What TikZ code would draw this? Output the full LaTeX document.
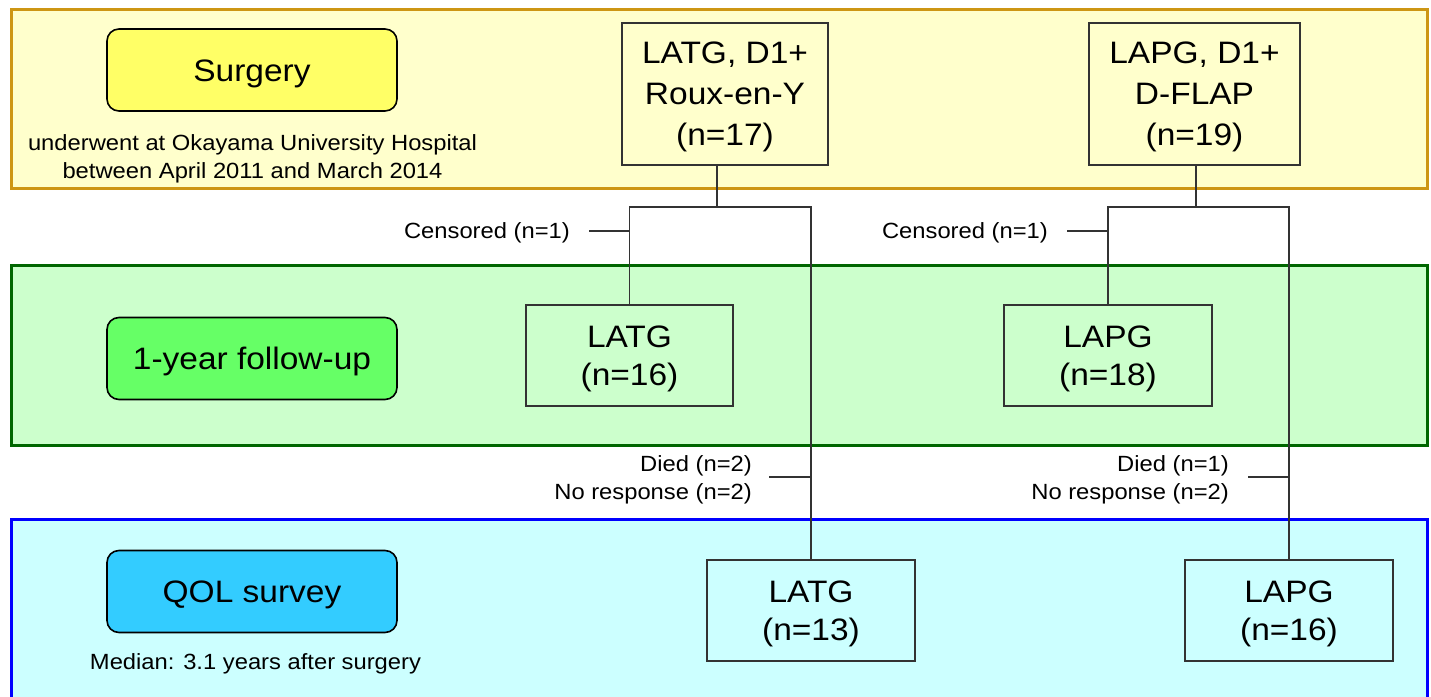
\documentclass[tikz,border=0pt]{standalone}
\usepackage{fontspec}
\setmainfont{Liberation Sans}[FakeStretch=1.08]
\definecolor{ybandfill}{HTML}{FFFFCC}
\definecolor{ybanddraw}{RGB}{205,150,20}
\definecolor{gbandfill}{HTML}{CCFFCC}
\definecolor{gbanddraw}{HTML}{006600}
\definecolor{bbandfill}{HTML}{CCFFFF}
\definecolor{bbanddraw}{HTML}{0000FF}
\definecolor{surgfill}{HTML}{FFFF66}
\definecolor{fufill}{HTML}{66FF66}
\definecolor{qolfill}{HTML}{33CCFF}
\definecolor{linecol}{HTML}{333333}
\begin{document}
\begin{tikzpicture}[x=1pt,y=-1pt,
  band/.style={line width=3pt},
  labelbox/.style={draw=black, line width=1.6pt, rounded corners=12pt, minimum width=290pt, minimum height=82pt, inner sep=0pt, text height=22pt, text depth=0pt, font=\fontsize{31}{38}\selectfont},
  flowbox/.style={draw=linecol, line width=1.6pt, align=center, inner sep=0pt, text depth=0pt, font=\fontsize{31}{38}\selectfont},
  tallbox/.style={flowbox, font=\fontsize{31}{41}\selectfont},
  conn/.style={draw=linecol, line width=1.6pt},
  note/.style={inner sep=0pt, font=\fontsize{22}{28}\selectfont}]
\useasboundingbox (0,0) rectangle (1431,696);
\fill[white] (0,0) rectangle (1431,696);
\begin{scope}
\clip (0,0) rectangle (1431,696);
\draw[band, draw=ybanddraw, fill=ybandfill] (11,9) rectangle (1427,188);
\draw[band, draw=gbanddraw, fill=gbandfill] (11,265) rectangle (1427,445);
\draw[band, draw=bbanddraw, fill=bbandfill] (11,519) rectangle (1427,720);
\end{scope}

% left labels
\node[labelbox, fill=surgfill] (surg) at (252,70) {Surgery};
\node[note, anchor=base] (und1) at (252.5,150) {underwent at Okayama University Hospital};
\node[note, anchor=base] (und2) at (252.5,178) {between April 2011 and March 2014};
\node[labelbox, fill=fufill] (fu) at (252,358.5) {1-year follow-up};
\node[labelbox, fill=qolfill] (qol) at (252,591.5) {QOL survey};
\node[note, anchor=base] (med) at (255.5,669) {Median: 3.1 years after surgery};

% flow boxes
\node[tallbox, minimum width=206pt, minimum height=142pt] (s1) at (725,94) {LATG, D1+\\Roux-en-Y\\(n=17)};
\node[tallbox, minimum width=211pt, minimum height=142pt] (s2) at (1194.5,94) {LAPG, D1+\\D-FLAP\\(n=19)};
\node[flowbox, minimum width=207pt, minimum height=101pt] (f1) at (629.5,355.5) {LATG\\(n=16)};
\node[flowbox, minimum width=208pt, minimum height=101pt] (f2) at (1108,355.5) {LAPG\\(n=18)};
\node[flowbox, minimum width=208pt, minimum height=101pt] (q1) at (811,610.5) {LATG\\(n=13)};
\node[flowbox, minimum width=208pt, minimum height=101pt] (q2) at (1289,610.5) {LAPG\\(n=16)};

% junctions
\coordinate (j1) at (717,207);
\coordinate (j2) at (1196,207);
\draw[conn] (s1.south -| j1) -- (j1);
\draw[conn] (s2.south -| j2) -- (j2);
\draw[conn] (f1.north) -- (f1.north |- j1) -- (q1.north |- j1) -- (q1.north);
\draw[conn] (f2.north) -- (f2.north |- j2) -- (q2.north |- j2) -- (q2.north);

% censored
\node[note, anchor=east] (cen1) at (570,233) {Censored (n=1)};
\node[note, anchor=east] (cen2) at (1048,233) {Censored (n=1)};
\coordinate (t1) at (589,231);
\coordinate (t2) at (1067,231);
\draw[conn] (t1) -- (t1 -| f1.north);
\draw[conn] (t2) -- (t2 -| f2.north);

% died
\node[note, anchor=east, align=right] (d1) at (752,480) {Died (n=2)\\No response (n=2)};
\node[note, anchor=east, align=right] (d2) at (1229,480) {Died (n=1)\\No response (n=2)};
\coordinate (t3) at (769,477);
\coordinate (t4) at (1248,477);
\draw[conn] (t3) -- (t3 -| q1.north);
\draw[conn] (t4) -- (t4 -| q2.north);
\end{tikzpicture}
\end{document}
